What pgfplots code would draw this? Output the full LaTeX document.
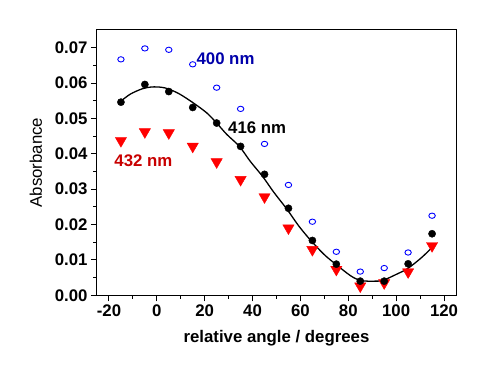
\documentclass[border=0pt]{standalone}
\usepackage{pgfplots}
\pgfplotsset{compat=1.18}
\usepackage{fontspec}
\setmainfont{Liberation Sans}
\newcommand\lbl{\fontsize{16.8}{20}\selectfont}
\definecolor{dblue}{RGB}{0,0,170}
\definecolor{dred}{RGB}{200,0,0}
\begin{document}
\begin{tikzpicture}
\useasboundingbox (-97pt,-79pt) rectangle (407pt,295.3pt);
\begin{axis}[
  at={(0,0)}, anchor=south west,
  scale only axis, width=359pt, height=265.3pt,
  xmin=-25, xmax=125, ymin=0, ymax=0.075,
  axis line style={line width=1pt},
  tick style={line width=1pt, black},
  tick align=outside, xtick pos=left, ytick pos=left,
  major tick length=6pt, minor tick length=3.5pt,
  xtick={-20,0,...,120}, minor x tick num=1,
  ytick={0,0.01,...,0.07}, minor y tick num=1,
  scaled y ticks=false,
  /pgf/number format/assume math mode=true,
  yticklabel style={/pgf/number format/.cd, fixed, fixed zerofill, precision=2},
  ticklabel style={font=\lbl\bfseries},
  xlabel={relative angle / degrees},
  ylabel={Absorbance},
  xlabel style={font=\lbl\bfseries, at={(axis description cs:0.5,-0.177)}, anchor=base},
  ylabel style={font=\lbl, at={(axis description cs:-0.17,0.5)}, anchor=center},
  clip=false,
]
% 400 nm
\addplot[only marks, mark=o, mark size=2.8pt, blue, mark options={line width=0.9pt, xscale=1.15, yscale=0.95}] coordinates {
(-15,0.0667) (-5,0.0698) (5,0.0694) (15,0.0653) (25,0.0587) (35,0.0527) (45,0.0428)
(55,0.0312) (65,0.0208) (75,0.0123) (85,0.0067) (95,0.0077) (105,0.0121) (115,0.0225)};
% 432 nm
\addplot[only marks, mark=triangle*, mark size=6.5pt, red, mark options={rotate=180, fill=red, draw=red}] coordinates {
(-15,0.0437) (-5,0.0462) (5,0.0459) (15,0.0421) (25,0.0377) (35,0.0327) (45,0.0278)
(55,0.0190) (65,0.0129) (75,0.0073) (85,0.0026) (95,0.0035) (105,0.0066) (115,0.0140)};
% fit
\addplot[black, line width=1.3pt, smooth] coordinates {
(-15,0.0549) (-11,0.0569) (-6,0.0584) (-2,0.0589) (2,0.0588) (5,0.0583) (9.5,0.0569)
(15,0.0545) (20.8,0.0516) (25,0.0487) (29.2,0.0455) (34.5,0.0421) (39,0.0379)
(44.2,0.0336) (48.8,0.0292) (54.4,0.0243) (59.3,0.0196) (64.2,0.0156) (69.8,0.0116)
(74.7,0.0088) (80.8,0.0056) (84.5,0.0043) (88,0.0040) (91,0.0040) (94.4,0.0042)
(100,0.0059) (104.9,0.0076) (110.5,0.0106) (115,0.0135)};
% 416 nm
\addplot[only marks, mark=*, mark size=3.6pt, black] coordinates {
(-15,0.0546) (-5,0.0596) (5,0.0576) (15,0.0531) (25,0.0487) (35,0.0421) (45,0.0342)
(55,0.0246) (65,0.0155) (75,0.0088) (85,0.0040) (95,0.0040) (105,0.0089) (115,0.0174)};
\node[font=\lbl\bfseries, text=dblue] at (axis cs:28.7,0.0670) {400 nm};
\node[font=\lbl\bfseries, text=black] at (axis cs:41.9,0.0473) {416 nm};
\node[font=\lbl\bfseries, text=dred] at (axis cs:-5.6,0.0381) {432 nm};
\end{axis}
\end{tikzpicture}
\end{document}
